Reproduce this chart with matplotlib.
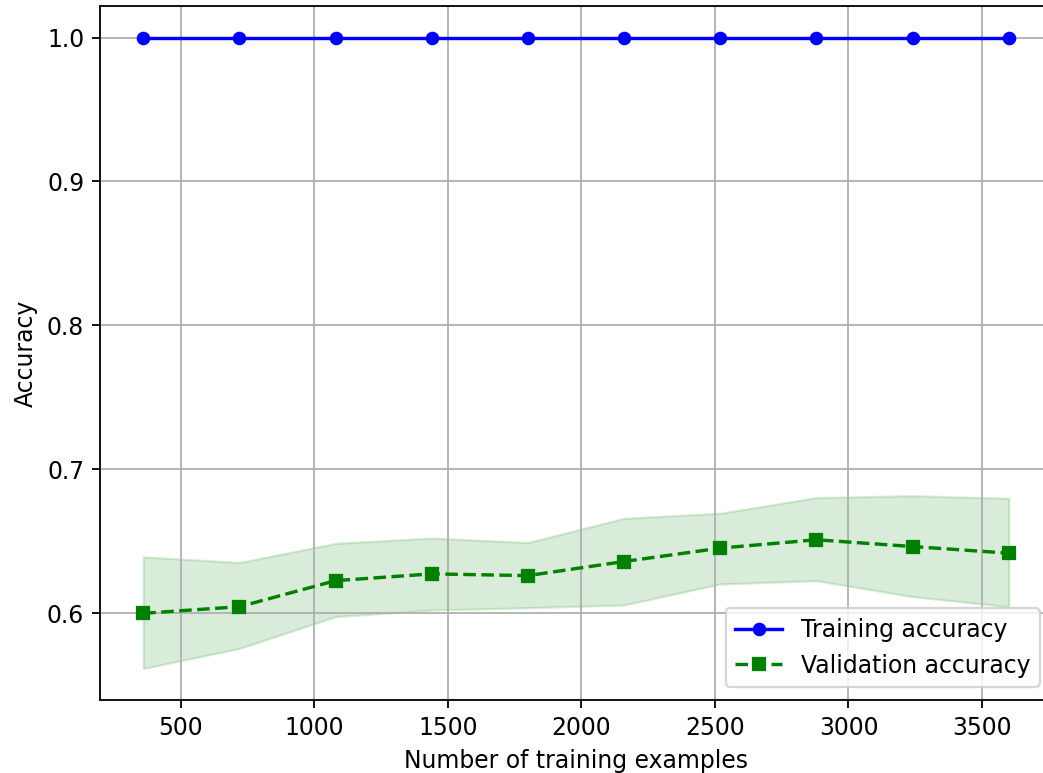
import matplotlib
matplotlib.use("Agg")
import matplotlib.pyplot as plt
import numpy as np

train_sizes = [360, 720, 1080, 1440, 1800, 2160, 2520, 2880, 3240, 3600]
train_mean = [1.0, 1.0, 1.0, 1.0, 1.0, 1.0, 1.0, 1.0, 1.0, 1.0]
val_mean = [0.600, 0.6046, 0.6227, 0.6274, 0.6262, 0.636, 0.6453, 0.6511, 0.6464, 0.6418]
val_upper = [0.6392, 0.6353, 0.6486, 0.6523, 0.6492, 0.6660, 0.6695, 0.6804, 0.6817, 0.6799]
val_lower = [0.5617, 0.5756, 0.5977, 0.6023, 0.6039, 0.6058, 0.6204, 0.6227, 0.6116, 0.6046]

plt.rcParams['font.size'] = 10.4

dpi = 163
fig = plt.figure(figsize=(1043 / dpi, 773 / dpi), dpi=dpi)
# The reference is cropped at the right: axes extend past the figure edge
ax_w_px, ax_h_px = 952, 694
ax = fig.add_axes([100 / 1043, 73 / 773, ax_w_px / 1043, ax_h_px / 773])

ax.plot(train_sizes, train_mean, color='blue', marker='o', markersize=5,
        label='Training accuracy')
ax.plot(train_sizes, val_mean, color='green', linestyle='--', marker='s',
        markersize=5, label='Validation accuracy')
ax.fill_between(train_sizes, val_upper, val_lower, alpha=0.15, color='green')

ax.grid()
ax.set_xlabel('Number of training examples')
ax.set_ylabel('Accuracy')
ax.legend(loc='lower right', borderaxespad=0,
          bbox_to_anchor=((1040 - 100) / ax_w_px, 13 / ax_h_px))

fig.savefig('out.png', dpi=dpi)
